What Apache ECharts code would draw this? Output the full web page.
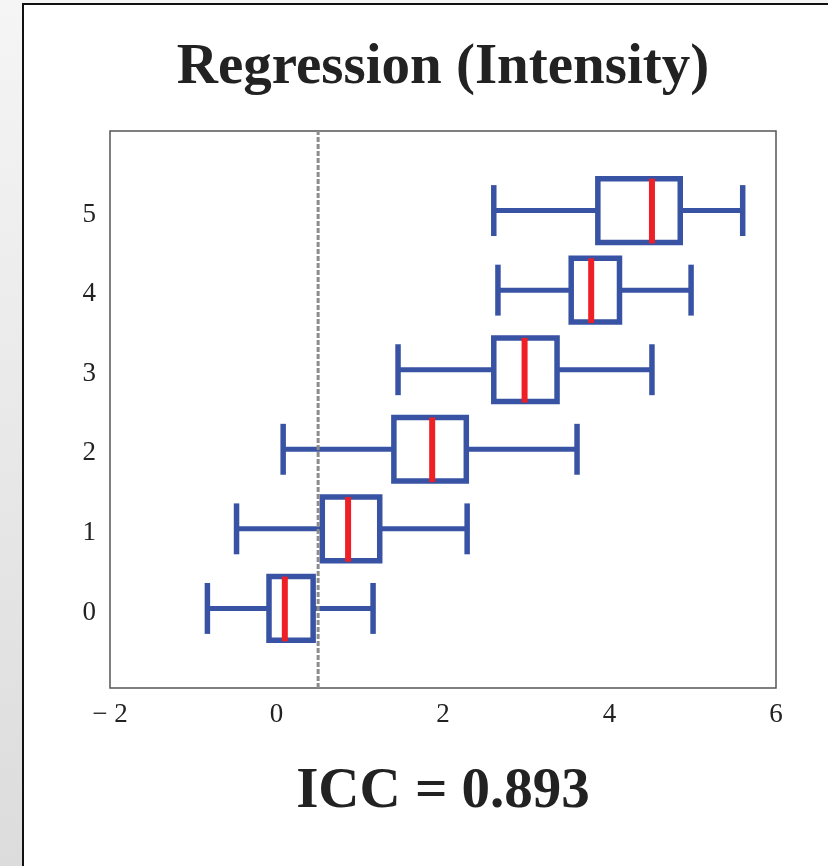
<!DOCTYPE html>
<html><head><meta charset="utf-8">
<script src="https://cdn.jsdelivr.net/npm/echarts@6/dist/echarts.min.js"></script>
<style>
html,body{margin:0;padding:0;}
body{width:828px;height:866px;background:linear-gradient(#f5f5f5,#dcdcdc);overflow:hidden;position:relative;}
#panel{position:absolute;left:22px;top:3px;width:900px;height:900px;border-left:2px solid #111;border-top:2px solid #111;background:#fff;}
#chart{position:absolute;left:0;top:0;width:828px;height:866px;}
</style></head><body><div id="panel"></div><div id="chart"></div>
<script>
const categories = [0, 1, 2, 3, 4, 5];
const whiskerLow = [-0.83, -0.48, 0.08, 1.46, 2.66, 2.61];
const q1 = [-0.09, 0.55, 1.41, 2.61, 3.54, 3.86];
const median = [0.10, 0.86, 1.87, 2.98, 3.78, 4.51];
const q3 = [0.44, 1.24, 2.28, 3.37, 4.12, 4.85];
const whiskerHigh = [1.16, 2.29, 3.61, 4.51, 4.98, 5.60];
const xTicks = [-2, 0, 2, 4, 6];
const referenceX = 0.5;
const titleText = 'Regression (Intensity)';
const iccText = 'ICC = 0.893';

const boxData = categories.map((c, i) => [c, whiskerLow[i], q1[i], median[i], q3[i], whiskerHigh[i]]);
const blue = '#3953a4', red = '#ee1f25';
const serif = '"Liberation Serif", "Times New Roman", serif';

const chart = echarts.init(document.getElementById('chart'), null, {renderer: 'canvas'});
chart.setOption({
  backgroundColor: 'transparent',
  animation: false,
  grid: {left: 110, right: 52, top: 131, bottom: 178, show: true, borderColor: '#555', borderWidth: 1.5, backgroundColor: '#fff'},
  xAxis: {
    type: 'value', min: xTicks[0], max: xTicks[xTicks.length - 1], interval: 2,
    axisLine: {show: false}, axisTick: {show: false}, splitLine: {show: false},
    axisLabel: {fontFamily: serif, fontSize: 27, color: '#222', margin: 13,
      formatter: v => v < 0 ? '\u2212 ' + Math.abs(v) : String(v)}
  },
  yAxis: {
    type: 'value', min: -1, max: 6, interval: 1,
    axisLine: {show: false}, axisTick: {show: false}, splitLine: {show: false},
    axisLabel: {fontFamily: serif, fontSize: 27, color: '#222', margin: 14,
      formatter: v => categories.indexOf(v) >= 0 ? '{v|' + v + '}' : '',
      rich: {v: {fontFamily: serif, fontSize: 27, color: '#222', padding: [8, 0, 0, 0]}}}
  },
  graphic: [
    {type: 'text', x: 443, y: 68, style: {text: titleText, font: 'bold 57px ' + serif, fill: '#222', textAlign: 'center', textVerticalAlign: 'middle'}},
    {type: 'text', x: 443, y: 792, style: {text: iccText, font: 'bold 57px ' + serif, fill: '#222', textAlign: 'center', textVerticalAlign: 'middle'}}
  ],
  series: [
    {
      type: 'custom', z: 2,
      encode: {x: [1, 2, 3, 4, 5], y: 0},
      data: boxData,
      renderItem: function (params, api) {
        const y = api.value(0);
        const pLow = api.coord([api.value(1), y]);
        const pQ1 = api.coord([api.value(2), y]);
        const pMed = api.coord([api.value(3), y]);
        const pQ3 = api.coord([api.value(4), y]);
        const pHigh = api.coord([api.value(5), y]);
        const band = api.size([0, 1])[1];
        const bh = band * 0.8, ch = band * 0.64;
        const cy = pMed[1];
        const ws = {stroke: blue, lineWidth: 5};
        return {type: 'group', children: [
          {type: 'line', shape: {x1: pLow[0], y1: cy, x2: pQ1[0], y2: cy}, style: ws},
          {type: 'line', shape: {x1: pQ3[0], y1: cy, x2: pHigh[0], y2: cy}, style: ws},
          {type: 'line', shape: {x1: pLow[0], y1: cy - ch / 2, x2: pLow[0], y2: cy + ch / 2}, style: {stroke: blue, lineWidth: 5.5}},
          {type: 'line', shape: {x1: pHigh[0], y1: cy - ch / 2, x2: pHigh[0], y2: cy + ch / 2}, style: {stroke: blue, lineWidth: 5.5}},
          {type: 'rect', shape: {x: pQ1[0], y: cy - bh / 2, width: pQ3[0] - pQ1[0], height: bh}, style: {fill: '#fff', stroke: blue, lineWidth: 5.5}},
          {type: 'line', shape: {x1: pMed[0], y1: cy - bh / 2, x2: pMed[0], y2: cy + bh / 2 + 1}, style: {stroke: red, lineWidth: 6}}
        ]};
      }
    },
    {
      type: 'line', z: 5, symbol: 'none', silent: true,
      data: [[referenceX, -1], [referenceX, 6]],
      lineStyle: {color: '#8c8c8c', width: 3, type: [5, 2]}
    }
  ]
});
</script>
</body></html>
